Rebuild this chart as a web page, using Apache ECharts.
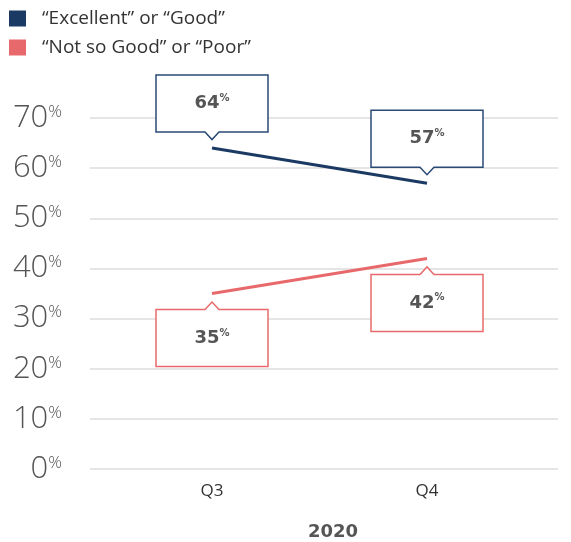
<!DOCTYPE html>
<html>
<head>
<meta charset="utf-8">
<script src="https://cdn.jsdelivr.net/npm/echarts@6/dist/echarts.min.js"></script>
<style>
  html, body { margin: 0; padding: 0; background: #fff; }
  #chart { width: 571px; height: 542px; }
</style>
</head>
<body>
<div id="chart"></div>
<script>
// Survey ratings by quarter
const categories = ['Q3', 'Q4'];
const yearLabel = '2020';
const goodName = '\u201cExcellent\u201d or \u201cGood\u201d';
const poorName = '\u201cNot so Good\u201d or \u201cPoor\u201d';
const goodValues = [64, 57];
const poorValues = [35, 42];
const yTicks = [0, 10, 20, 30, 40, 50, 60, 70];

const NAVY = '#1b3a63';
const CORAL = '#e8696b';
const FONT = '"Open Sans", "DejaVu Sans", sans-serif';
const BOLD_FONT = '"DejaVu Sans", "Open Sans", sans-serif';

const chart = echarts.init(document.getElementById('chart'));

// Callout box with a small pointer aimed at the data point
function calloutRenderer(color, above) {
  return function (params, api) {
    const idx = api.value(0);
    const val = api.value(1);
    const p = api.coord([idx, val]);
    const cx = p[0], py = p[1];
    const w = 112, h = 57, gap = 16, tipGap = 8.5, half = 7;
    const L = cx - w / 2, R = cx + w / 2;
    let pts, T, B;
    if (above) {
      B = py - gap; T = B - h;
      const tip = py - tipGap;
      pts = [[L, T], [R, T], [R, B], [cx + half, B], [cx, tip], [cx - half, B], [L, B]];
    } else {
      T = py + gap; B = T + h;
      const tip = py + tipGap;
      pts = [[L, T], [cx - half, T], [cx, tip], [cx + half, T], [R, T], [R, B], [L, B]];
    }
    return {
      type: 'group',
      children: [
        {
          type: 'polygon',
          shape: { points: pts },
          style: { fill: '#fff', stroke: color, lineWidth: 1.5 }
        },
        {
          type: 'text',
          x: cx,
          y: (T + B) / 2,
          style: {
            text: '{n|' + val + '}{p|%}',
            align: 'center',
            verticalAlign: 'middle',
            rich: {
              n: { fontFamily: BOLD_FONT, fontWeight: 'bold', fontSize: 18, fill: '#555' },
              p: { fontFamily: BOLD_FONT, fontWeight: 'bold', fontSize: 10, fill: '#555', padding: [0, 0, 10, 0] }
            }
          }
        }
      ]
    };
  };
}

const option = {
  animation: false,
  backgroundColor: '#fff',
  legend: {
    orient: 'vertical',
    left: 9,
    top: 9,
    padding: 0,
    icon: 'rect',
    itemWidth: 17,
    itemHeight: 16,
    itemGap: 10,
    textStyle: { fontFamily: FONT, fontSize: 19, color: '#333', padding: [0, 0, 0, 11] },
    data: [goodName, poorName]
  },
  grid: [
    { left: 90, right: 13, top: 118, bottom: 73, outerBoundsMode: 'none' },
    { left: 104.5, width: 430, top: 118, bottom: 73, outerBoundsMode: 'none' }
  ],
  xAxis: [
    { type: 'value', gridIndex: 0, show: false, min: 0, max: 1 },
    {
      type: 'category',
      gridIndex: 1,
      data: categories,
      axisLine: { show: false },
      axisTick: { show: false },
      axisLabel: { fontFamily: FONT, fontSize: 17, color: '#333', margin: 14 },
      name: yearLabel,
      nameLocation: 'middle',
      nameGap: 54,
      nameTextStyle: { fontFamily: BOLD_FONT, fontSize: 18, fontWeight: 'bold', color: '#555', padding: [0, 0, 0, 27] }
    }
  ],
  yAxis: [
    {
      type: 'value',
      gridIndex: 0,
      min: yTicks[0],
      max: yTicks[yTicks.length - 1],
      interval: 10,
      axisLine: { show: false },
      axisTick: { show: false },
      splitLine: { lineStyle: { color: '#dcdcdc', width: 1.5 } },
      axisLabel: {
        margin: 28,
        formatter: v => '{n|' + v + '}{p|%}',
        rich: {
          n: { fontFamily: FONT, fontWeight: 300, fontSize: 31, color: '#555' },
          p: { fontFamily: FONT, fontWeight: 300, fontSize: 17, color: '#555', padding: [0, 0, 12, 0] }
        }
      }
    },
    {
      type: 'value',
      gridIndex: 1,
      min: yTicks[0],
      max: yTicks[yTicks.length - 1],
      interval: 10,
      show: false,
      splitLine: { show: false }
    }
  ],
  series: [
    {
      name: goodName,
      type: 'line',
      xAxisIndex: 1,
      yAxisIndex: 1,
      data: goodValues,
      symbol: 'none',
      color: NAVY,
      lineStyle: { color: NAVY, width: 3 },
      z: 3
    },
    {
      name: poorName,
      type: 'line',
      xAxisIndex: 1,
      yAxisIndex: 1,
      data: poorValues,
      symbol: 'none',
      color: CORAL,
      lineStyle: { color: CORAL, width: 3 },
      z: 3
    },
    {
      type: 'custom',
      xAxisIndex: 1,
      yAxisIndex: 1,
      data: goodValues.map((v, i) => [i, v]),
      renderItem: calloutRenderer('#2a4a75', true),
      z: 4
    },
    {
      type: 'custom',
      xAxisIndex: 1,
      yAxisIndex: 1,
      data: poorValues.map((v, i) => [i, v]),
      renderItem: calloutRenderer(CORAL, false),
      z: 4
    }
  ]
};

chart.setOption(option);
</script>
</body>
</html>
